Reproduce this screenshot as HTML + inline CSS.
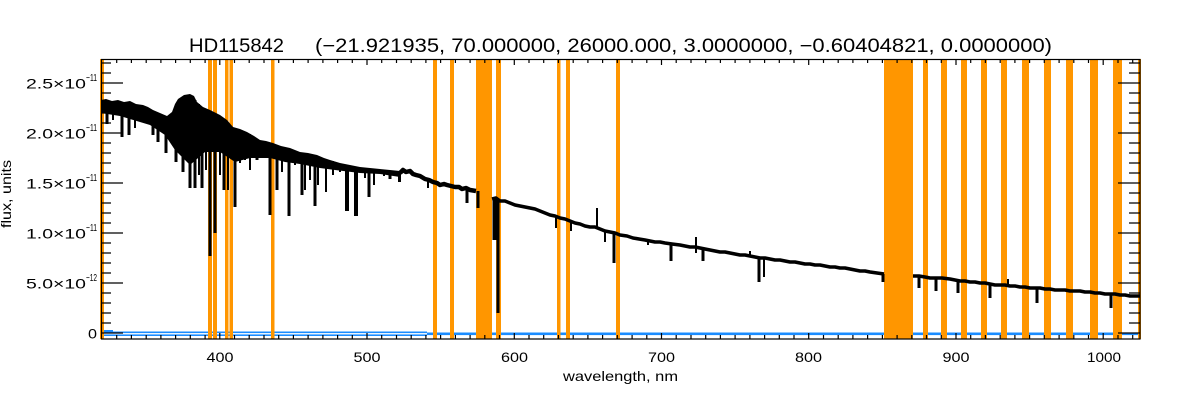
<!DOCTYPE html>
<html><head><meta charset="utf-8"><style>
html,body{margin:0;padding:0;background:#fff;}
svg{display:block;}
text{font-family:"Liberation Sans",Arial,sans-serif;fill:#000;}
</style></head><body>
<svg width="1200" height="400" viewBox="0 0 1200 400" xmlns="http://www.w3.org/2000/svg">
<rect x="0" y="0" width="1200" height="400" fill="#fff"/>

<!-- blue error line -->
<g fill="#1a8cff">
<rect x="101" y="331.5" width="326" height="1.6"/>
<rect x="101" y="334.4" width="326" height="1.6"/>
<rect x="427" y="332.5" width="713" height="2.6"/>
<rect x="101" y="330" width="12" height="1.5"/>
</g>

<!-- orange bands -->
<g fill="#ff9600">
<rect x="100" y="59" width="4" height="280"/>
<rect x="208" y="59" width="4" height="280"/>
<rect x="213" y="59" width="4" height="280"/>
<rect x="225" y="59" width="3.5" height="280"/>
<rect x="229.5" y="59" width="3.5" height="280"/>
<rect x="271" y="59" width="3.5" height="280"/>
<rect x="433" y="59" width="4" height="280"/>
<rect x="450" y="59" width="4" height="280"/>
<rect x="476" y="59" width="16" height="280"/>
<rect x="496" y="59" width="5" height="280"/>
<rect x="557" y="59" width="3.5" height="280"/>
<rect x="566" y="59" width="4" height="280"/>
<rect x="616" y="59" width="4" height="280"/>
<rect x="884" y="59" width="29" height="280"/>
<rect x="923" y="59" width="5" height="280"/>
<rect x="941" y="59" width="6" height="280"/>
<rect x="961" y="59" width="6" height="280"/>
<rect x="981" y="59" width="6" height="280"/>
<rect x="1001" y="59" width="6" height="280"/>
<rect x="1022" y="59" width="7" height="280"/>
<rect x="1044" y="59" width="7" height="280"/>
<rect x="1066" y="59" width="7" height="280"/>
<rect x="1090" y="59" width="8" height="280"/>
<rect x="1113" y="59" width="9" height="280"/>
<rect x="1138" y="59" width="3" height="280"/>
</g>

<!-- spectrum -->
<polygon fill="#000" points="101,100 106,99 112,101 118,100 124,102 130,101 136,104 143,105 148,107 153,110 160,113 167,116 172,112 175,104 178,99 184,95 190,94 194,96 197,102 203,107 210,110 220,115 227,120 233,127 240,129 247,132 254,136 260,140 266,141 273,143 281,146 290,148 300,152 308,153 317,155 324,158 330,160 340,163 350,165 360,167 370,168 380,169 390,170 400,171 400,177 380,174 360,173 335,170 320,168 300,164 285,162 270,158 250,158 235,162 220,152 205,152 190,165 175,150 165,135 150,125 140,122 120,116 101,113"/>
<g fill="none" stroke="#000" stroke-linejoin="round">
<polyline stroke-width="4.5" points="400,173 403,170 406,172 410,171 413,174 416,175 420,176 425,179 429,180 433,182 437,183 440,185 444,184 447,185 451,186 455,187 459,187 462,189 466,188 470,190 476,191"/>
<polyline stroke-width="3.5" points="492,199 496,198 500,201 505,201 510,203 515,205 520,206 525,207 530,208 535,209 540,211 545,213 550,215 555,216 560,218 565,219 570,221 575,223 580,224 585,226 590,227 595,227 600,229 605,231 610,232 615,233 620,235 627,236 633,238 639,239 645,240 650,241 655,242 660,242 665,243 672,244 680,245 685,246 690,247 695,247 700,248 705,249 710,250 715,251 720,252 725,252 730,253 735,254 740,255 745,255 750,256 755,257 760,258 765,258 770,259 775,260 780,260 785,261 790,262 795,262 800,263 805,264 810,264 815,265 820,265 825,266 830,267 835,267 840,268 845,268 850,269 855,270 860,271 865,271 870,272 877,273 884,274"/>
<polyline stroke-width="3.5" points="913,276 919,276 925,277 930,278 935,278 942,278 950,279 955,280 960,281 965,281 970,282 975,282 980,283 985,283 990,284 995,285 1000,285 1005,285 1010,286 1015,286 1020,287 1025,287 1030,288 1035,288 1040,288 1045,289 1050,289 1055,290 1060,290 1065,290 1070,291 1075,291 1080,291 1085,292 1090,292 1095,293 1100,293 1105,294 1110,294 1115,294 1120,295 1125,295 1130,296 1135,296 1140,296"/>
</g>
<path fill="none" stroke="#000" stroke-width="3" d="M107 103V124M122 104V137M129 104V135M153 112V135M158 114V142M166 118V153M176 106V162M183 100V172M190 98V188M195 100V188M202 108V188M210 112V256M215 114V233M224 120V190M235 130V207M257 140V160M270 145V215M277 147V190M289 150V216M302 155V195M315 158V206M369 170V197M390 172V179M467 188V203M478 191V208M498 200V313M614 234V263M671 244V261M703 249V261M759 258V282M883 274V282M919 277V288M936 278V291M958 280V293M990 284V298M1037 288V303M1111 294V308"/>
<path fill="none" stroke="#000" stroke-width="4" d="M347 166V211M356 168V216"/>
<path fill="none" stroke="#000" stroke-width="5" d="M495 197V240"/>
<path fill="none" stroke="#000" stroke-width="2" d="M113 103V120M135 106V128M145 108V118M170 116V132M180 104V150M187 98V160M199 104V175M206 110V170M220 117V175M228 124V190M240 130V163M245 132V160M250 134V170M262 142V158M282 148V172M295 152V165M305 155V190M310 155V180M318 158V185M326 160V192M333 161V175M340 165V172M365 169V178M374 171V185M384 172V176M399 174V182M400 173V182M428 181V188M556 217V228M571 221V231M605 230V242M648 240V245M764 258V277M597 208V229M696 237V253M750 251V256M1008 279V286"/>

<!-- axes frame -->
<rect x="101.5" y="59.5" width="1038.5" height="279.5" fill="none" stroke="#000" stroke-width="1.2"/>

<!-- y ticks -->
<path fill="none" stroke="#000" stroke-width="1.2" d="M101 333H123M101 283H123M101 233H123M101 183H123M101 133H123M101 83H123M1118 333H1140M1118 283H1140M1118 233H1140M1118 183H1140M1118 133H1140M1118 83H1140M101 323H111M101 313H111M101 303H111M101 293H111M101 273H111M101 263H111M101 253H111M101 243H111M101 223H111M101 213H111M101 203H111M101 193H111M101 173H111M101 163H111M101 153H111M101 143H111M101 123H111M101 113H111M101 103H111M101 93H111M101 73H111M101 63H111M1129 323H1140M1129 313H1140M1129 303H1140M1129 293H1140M1129 273H1140M1129 263H1140M1129 253H1140M1129 243H1140M1129 223H1140M1129 213H1140M1129 203H1140M1129 193H1140M1129 173H1140M1129 163H1140M1129 153H1140M1129 143H1140M1129 123H1140M1129 113H1140M1129 103H1140M1129 93H1140M1129 73H1140M1129 63H1140"/>

<!-- x ticks -->
<path fill="none" stroke="#000" stroke-width="1.2" d="M116.7 339v-4M131.4 339v-4M146.2 339v-4M160.9 339v-4M175.6 339v-4M190.3 339v-4M205.1 339v-4M219.8 339v-6M234.5 339v-4M249.2 339v-4M264 339v-4M278.7 339v-4M293.4 339v-4M308.1 339v-4M322.9 339v-4M337.6 339v-4M352.3 339v-4M367 339v-6M381.7 339v-4M396.5 339v-4M411.2 339v-4M425.9 339v-4M440.6 339v-4M455.4 339v-4M470.1 339v-4M484.8 339v-4M499.5 339v-4M514.3 339v-6M529 339v-4M543.7 339v-4M558.4 339v-4M573.2 339v-4M587.9 339v-4M602.6 339v-4M617.3 339v-4M632.1 339v-4M646.8 339v-4M661.5 339v-6M676.2 339v-4M691 339v-4M705.7 339v-4M720.4 339v-4M735.1 339v-4M749.9 339v-4M764.6 339v-4M779.3 339v-4M794 339v-4M808.7 339v-6M823.5 339v-4M838.2 339v-4M852.9 339v-4M867.6 339v-4M882.4 339v-4M897.1 339v-4M911.8 339v-4M926.5 339v-4M941.3 339v-4M956 339v-6M970.7 339v-4M985.4 339v-4M1000.2 339v-4M1014.9 339v-4M1029.6 339v-4M1044.3 339v-4M1059.1 339v-4M1073.8 339v-4M1088.5 339v-4M1103.2 339v-6M1118 339v-4M1132.7 339v-4
M116.7 59v4M131.4 59v4M146.2 59v4M160.9 59v4M175.6 59v4M190.3 59v4M205.1 59v4M219.8 59v6M234.5 59v4M249.2 59v4M264 59v4M278.7 59v4M293.4 59v4M308.1 59v4M322.9 59v4M337.6 59v4M352.3 59v4M367 59v6M381.7 59v4M396.5 59v4M411.2 59v4M425.9 59v4M440.6 59v4M455.4 59v4M470.1 59v4M484.8 59v4M499.5 59v4M514.3 59v6M529 59v4M543.7 59v4M558.4 59v4M573.2 59v4M587.9 59v4M602.6 59v4M617.3 59v4M632.1 59v4M646.8 59v4M661.5 59v6M676.2 59v4M691 59v4M705.7 59v4M720.4 59v4M735.1 59v4M749.9 59v4M764.6 59v4M779.3 59v4M794 59v4M808.7 59v6M823.5 59v4M838.2 59v4M852.9 59v4M867.6 59v4M882.4 59v4M897.1 59v4M911.8 59v4M926.5 59v4M941.3 59v4M956 59v6M970.7 59v4M985.4 59v4M1000.2 59v4M1014.9 59v4M1029.6 59v4M1044.3 59v4M1059.1 59v4M1073.8 59v4M1088.5 59v4M1103.2 59v6M1118 59v4M1132.7 59v4"/>

<!-- title -->
<text x="189" y="52" font-size="19" textLength="95" lengthAdjust="spacingAndGlyphs">HD115842</text>
<text x="315" y="52" font-size="19" textLength="737" lengthAdjust="spacingAndGlyphs">(−21.921935, 70.000000, 26000.000, 3.0000000, −0.60404821, 0.0000000)</text>

<!-- y labels -->
<g font-size="14">
<text x="26" y="88.5" textLength="60" lengthAdjust="spacingAndGlyphs">2.5×10</text>
<text x="26" y="138.5" textLength="60" lengthAdjust="spacingAndGlyphs">2.0×10</text>
<text x="26" y="188.5" textLength="60" lengthAdjust="spacingAndGlyphs">1.5×10</text>
<text x="26" y="238.5" textLength="60" lengthAdjust="spacingAndGlyphs">1.0×10</text>
<text x="26" y="288.5" textLength="60" lengthAdjust="spacingAndGlyphs">5.0×10</text>
<text x="88" y="338.5" textLength="9" lengthAdjust="spacingAndGlyphs">0</text>
</g>
<g font-size="10">
<text x="86" y="81" textLength="11" lengthAdjust="spacingAndGlyphs">−11</text>
<text x="86" y="131" textLength="11" lengthAdjust="spacingAndGlyphs">−11</text>
<text x="86" y="181" textLength="11" lengthAdjust="spacingAndGlyphs">−11</text>
<text x="86" y="231" textLength="11" lengthAdjust="spacingAndGlyphs">−11</text>
<text x="86" y="281" textLength="11" lengthAdjust="spacingAndGlyphs">−12</text>
</g>

<!-- x labels -->
<g font-size="14">
<text x="206.5" y="362" textLength="27" lengthAdjust="spacingAndGlyphs">400</text>
<text x="353.5" y="362" textLength="27" lengthAdjust="spacingAndGlyphs">500</text>
<text x="501" y="362" textLength="27" lengthAdjust="spacingAndGlyphs">600</text>
<text x="648" y="362" textLength="27" lengthAdjust="spacingAndGlyphs">700</text>
<text x="795" y="362" textLength="27" lengthAdjust="spacingAndGlyphs">800</text>
<text x="942.5" y="362" textLength="27" lengthAdjust="spacingAndGlyphs">900</text>
<text x="1087" y="362" textLength="34" lengthAdjust="spacingAndGlyphs">1000</text>
</g>

<!-- axis titles -->
<text x="563" y="381" font-size="14" textLength="115" lengthAdjust="spacingAndGlyphs">wavelength, nm</text>
<text transform="translate(11,228) rotate(-90)" x="0" y="0" font-size="14" textLength="68" lengthAdjust="spacingAndGlyphs">flux, units</text>
</svg>
</body></html>
